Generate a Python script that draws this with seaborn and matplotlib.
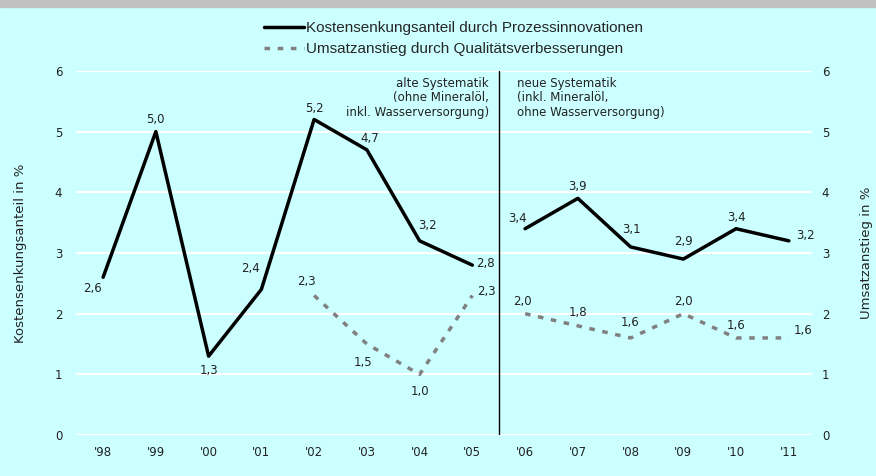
import numpy as np
import pandas as pd
import matplotlib
matplotlib.use("Agg")
import matplotlib.pyplot as plt
import seaborn as sns
from matplotlib.lines import Line2D
from matplotlib.patches import Rectangle

# data
years = ["'98", "'99", "'00", "'01", "'02", "'03", "'04", "'05",
         "'06", "'07", "'08", "'09", "'10", "'11"]
kosten_alt = [2.6, 5.0, 1.3, 2.4, 5.2, 4.7, 3.2, 2.8]      # '98-'05
kosten_neu = [3.4, 3.9, 3.1, 2.9, 3.4, 3.2]                # '06-'11
umsatz_alt = [2.3, 1.5, 1.0, 2.3]                          # '02-'05
umsatz_neu = [2.0, 1.8, 1.6, 2.0, 1.6, 1.6]                # '06-'11

label_kosten = "Kostensenkungsanteil durch Prozessinnovationen"
label_umsatz = "Umsatzanstieg durch Qualitätsverbesserungen"
txt_alt = "alte Systematik\n(ohne Mineralöl,\ninkl. Wasserversorgung)"
txt_neu = "neue Systematik\n(inkl. Mineralöl,\nohne Wasserversorgung)"

# label offsets in pixels (dx, dy) for each point
off_kosten = [(-11, -11), (0, 12), (0, -14), (-11, 21), (0, 11), (3, 11), (8, 15), (13, 2),
              (-8, 10), (0, 12), (1, 17), (0, 18), (0, 11), (17, 5)]
off_umsatz = [(-8, 14), (-4, -18), (0, -17), (14, 4),
              (-3, 12), (0, 13), (-1, 15), (0, 12), (0, 12), (14, 7)]

bg = "#ccffff"
dash = (0, (1.6, 2.2))
sns.set_theme(style="white", rc={"axes.facecolor": bg, "figure.facecolor": bg})
plt.rcParams["font.family"] = ["DejaVu Sans"]

fig = plt.figure(figsize=(8.76, 4.76), dpi=100)
ax = fig.add_axes([0.087, 0.086, 0.84, 0.765])
fig.patches.append(Rectangle((0, 1 - 7 / 476), 1, 7 / 476, transform=fig.transFigure,
                             color="#c0c0c0", zorder=0))

x_all = np.arange(len(years))
segs = [
    (x_all[0:8], kosten_alt, "kosten"),
    (x_all[8:14], kosten_neu, "kosten"),
    (x_all[4:8], umsatz_alt, "umsatz"),
    (x_all[8:14], umsatz_neu, "umsatz"),
]
for xs, ys, kind in segs:
    df = pd.DataFrame({"x": xs, "y": ys})
    if kind == "kosten":
        sns.lineplot(data=df, x="x", y="y", ax=ax, color="black", linewidth=2.5, zorder=3)
    else:
        sns.lineplot(data=df, x="x", y="y", ax=ax, color="#808080", linewidth=2.5,
                     zorder=3, dashes=False, linestyle=dash)

kx = list(x_all[0:8]) + list(x_all[8:14])
ky = kosten_alt + kosten_neu
for (xi, yi), (dx, dy) in zip(zip(kx, ky), off_kosten):
    ax.annotate(f"{yi:.1f}".replace(".", ","), (xi, yi), xytext=(dx, dy),
                textcoords="offset pixels", ha="center", va="center", fontsize=8.5, color="#222222")
ux = list(x_all[4:8]) + list(x_all[8:14])
uy = umsatz_alt + umsatz_neu
for (xi, yi), (dx, dy) in zip(zip(ux, uy), off_umsatz):
    ax.annotate(f"{yi:.1f}".replace(".", ","), (xi, yi), xytext=(dx, dy),
                textcoords="offset pixels", ha="center", va="center", fontsize=8.5, color="#222222")

ax.axvline(7.5, ymin=0, ymax=1, color="black", linewidth=1, zorder=4)
ax.text(7.31, 5.9, txt_alt, ha="right", va="top", fontsize=8.5, color="#222222", linespacing=1.15)
ax.text(7.84, 5.9, txt_neu, ha="left", va="top", fontsize=8.5, color="#222222", linespacing=1.15)

ax.set_xlim(-0.51, 13.44)
ax.set_ylim(0, 6)
ax.set_xticks(x_all)
ax.set_xticklabels(years)
ax.set_yticks(range(7))
ax.grid(axis="y", color="white", linewidth=1.5)
ax.set_axisbelow(True)
for s in ax.spines.values():
    s.set_visible(False)
ax.tick_params(axis="both", length=0, labelsize=8.5, colors="#222222")
ax.tick_params(axis="y", pad=10)
ax.tick_params(axis="x", pad=8)
ax.set_xlabel("")
ax.set_ylabel("Kostensenkungsanteil in %", fontsize=9.5, labelpad=20, color="#222222")

ax2 = ax.twinx()
ax2.set_ylim(0, 6)
ax2.set_yticks(range(7))
for s in ax2.spines.values():
    s.set_visible(False)
ax2.tick_params(axis="y", length=0, labelsize=8.5, colors="#222222", pad=7)
ax2.set_ylabel("Umsatzanstieg in %", fontsize=9.5, labelpad=22, color="#222222")

handles = [Line2D([], [], color="black", linewidth=2.5),
           Line2D([], [], color="#808080", linewidth=2.5, linestyle=dash)]
leg = fig.legend(handles, [label_kosten, label_umsatz], loc="upper left",
                 bbox_to_anchor=(264 / 876, 1 - 21 / 476), frameon=False, handlelength=2.6,
                 handletextpad=0.15, labelspacing=0.45, borderaxespad=0, borderpad=0,
                 prop={"family": "Liberation Sans", "size": 11})

fig.savefig("out.png", dpi=100, facecolor=bg)
